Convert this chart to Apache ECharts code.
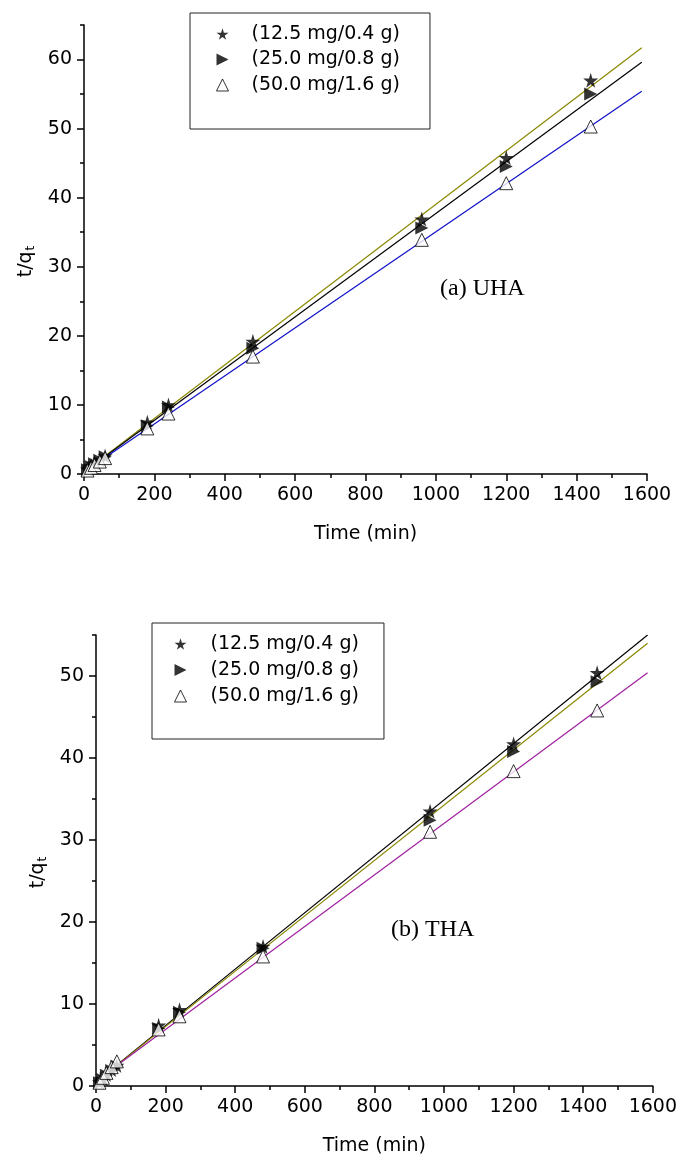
<!DOCTYPE html>
<html>
<head>
<meta charset="utf-8">
<script src="https://cdn.jsdelivr.net/npm/echarts@6/dist/echarts.min.js"></script>
<style>html,body{margin:0;padding:0;background:#fff}#c{width:680px;height:1160px}</style>
</head>
<body>
<div id="c"></div>
<script>
// ---- data ----
const seriesNames = ['(12.5 mg/0.4 g)', '(25.0 mg/0.8 g)', '(50.0 mg/1.6 g)'];
const times = [10, 20, 30, 45, 60, 180, 240, 480, 960, 1200, 1440];
// (a) UHA  t/qt
const uha1 = [0.7, 1.2, 1.6, 2.1, 2.6, 7.5, 10.0, 19.2, 36.9, 45.8, 57.0];
const uha2 = [0.6, 1.1, 1.5, 2.0, 2.5, 7.0, 9.7, 18.2, 35.6, 44.5, 55.0];
const uha3 = [0.5, 0.9, 1.3, 1.8, 2.3, 6.6, 8.75, 17.0, 33.9, 42.1, 50.3];
// (b) THA  t/qt
const tha1 = [0.5, 0.9, 1.4, 2.0, 2.5, 7.4, 9.3, 17.0, 33.5, 41.7, 50.4];
const tha2 = [0.4, 0.8, 1.3, 1.9, 2.4, 7.0, 9.0, 16.8, 32.4, 40.8, 49.3];
const tha3 = [0.4, 1.0, 1.6, 2.3, 3.0, 6.9, 8.5, 15.8, 31.0, 38.4, 45.8];
// fitted lines (start / end)
const fitX = [0, 1585];
const uhaFit1 = [0.3, 61.7];
const uhaFit2 = [0.3, 59.6];
const uhaFit3 = [0.3, 55.4];
const thaFit1 = [0.5, 55.0];
const thaFit2 = [0.5, 54.0];
const thaFit3 = [0.6, 50.4];
// ticks
const xTicks = [0, 200, 400, 600, 800, 1000, 1200, 1400, 1600];
const yTicksTop = [0, 10, 20, 30, 40, 50, 60];
const yTicksBottom = [0, 10, 20, 30, 40, 50];
const panelLabels = ['(a) UHA', '(b) THA'];

// ---- styles ----
const FONT = 'DejaVu Sans';
const STAR = 'path://M50,0 L61,35 L98,35 L68,57 L79,91 L50,70 L21,91 L32,57 L2,35 L39,35 Z';
const RTRI = 'path://M0,0 L100,50 L0,100 Z';
const symbols = [
  {symbol: STAR, size: 15, itemStyle: {color: '#000'}},
  {symbol: RTRI, size: 13, itemStyle: {color: '#000'}},
  {symbol: 'triangle', size: 13, itemStyle: {color: '#fff', borderColor: '#000', borderWidth: 1}}
];
const fitColorsTop = ['#8a8700', '#000000', '#1010c8'];
const fitColorsBottom = ['#000000', '#8a8700', '#a020a0'];

function pairs(xs, ys) { return xs.map((x, i) => [x, ys[i]]); }
const plain = v => String(v);

function xAxisDef(gi) {
  return {
    type: 'value', gridIndex: gi, min: 0, max: 1600, interval: 200,
    axisLine: {show: true, lineStyle: {color: '#000', width: 1.5}},
    axisTick: {show: true, length: 7, lineStyle: {color: '#000', width: 1.5}, customValues: xTicks},
    minorTick: {show: true, splitNumber: 2, length: 4, lineStyle: {color: '#000', width: 1.5}},
    splitLine: {show: false}, minorSplitLine: {show: false},
    axisLabel: {color: '#000', fontFamily: FONT, fontSize: 19, margin: 12, customValues: xTicks, formatter: plain},
    name: 'Time (min)', nameLocation: 'middle', nameGap: 51,
    nameTextStyle: {color: '#000', fontFamily: FONT, fontSize: 19}
  };
}
function yAxisMain(gi, max, ticks) {
  return {
    type: 'value', gridIndex: gi, min: 0, max: max, interval: 10,
    axisLine: {show: true, onZero: false, lineStyle: {color: '#000', width: 1.5}},
    axisTick: {show: true, length: 7, lineStyle: {color: '#000', width: 1.5}, customValues: ticks},
    minorTick: {show: false},
    splitLine: {show: false},
    axisLabel: {color: '#000', fontFamily: FONT, fontSize: 19, margin: 12, customValues: ticks, formatter: plain},
    name: 't/q{s|t}', nameLocation: 'middle', nameGap: 44,
    nameTextStyle: {color: '#000', fontFamily: FONT, fontSize: 19, padding: [0, 24, 0, 0],
      rich: {s: {fontFamily: FONT, fontSize: 12, padding: [9, 0, 0, 1], color: '#000'}}}
  };
}
function yAxisMinor(gi, max) {
  return {
    type: 'value', gridIndex: gi, min: 0, max: max, interval: 5, position: 'left',
    axisLine: {show: false}, axisLabel: {show: false}, splitLine: {show: false},
    axisTick: {show: true, length: 4, lineStyle: {color: '#000', width: 1.5}}
  };
}

const series = [];
const topData = [uha1, uha2, uha3];
const botData = [tha1, tha2, tha3];
const topFits = [uhaFit1, uhaFit2, uhaFit3];
const botFits = [thaFit1, thaFit2, thaFit3];
[0, 1, 2].forEach(i => {
  series.push({type: 'line', xAxisIndex: 0, yAxisIndex: 0, data: pairs(fitX, topFits[i]), showSymbol: false, silent: true,
    lineStyle: {color: fitColorsTop[i], width: 1.2}, z: 2});
  series.push({type: 'line', xAxisIndex: 1, yAxisIndex: 2, data: pairs(fitX, botFits[i]), showSymbol: false, silent: true,
    lineStyle: {color: fitColorsBottom[i], width: 1.2}, z: 2});
});
[0, 1, 2].forEach(i => {
  series.push({type: 'scatter', name: 'a#' + seriesNames[i], xAxisIndex: 0, yAxisIndex: 0,
    data: pairs(times, topData[i]), symbol: symbols[i].symbol, symbolSize: symbols[i].size,
    itemStyle: symbols[i].itemStyle, z: 5});
  series.push({type: 'scatter', name: 'b#' + seriesNames[i], xAxisIndex: 1, yAxisIndex: 2,
    data: pairs(times, botData[i]), symbol: symbols[i].symbol, symbolSize: symbols[i].size,
    itemStyle: symbols[i].itemStyle, z: 5});
});

function legendDef(prefix, left, top, padding, gap, textPad) {
  return {
    orient: 'vertical', left: left, top: top, padding: padding, itemGap: gap,
    itemWidth: 12, itemHeight: 12, selectedMode: false,
    borderColor: '#222', borderWidth: 1,
    formatter: n => n.split('#')[1],
    textStyle: {color: '#000', fontFamily: FONT, fontSize: 19, lineHeight: 20, padding: [0, 0, 0, textPad]},
    data: seriesNames.map((n, i) => ({name: prefix + '#' + n, icon: symbols[i].symbol,
      itemStyle: symbols[i].itemStyle}))
  };
}

const option = {
  animation: false,
  backgroundColor: '#fff',
  grid: [
    {left: 84, top: 25, width: 563, height: 449},
    {left: 96, top: 635, width: 560, height: 451}
  ],
  xAxis: [xAxisDef(0), xAxisDef(1)],
  yAxis: [yAxisMain(0, 65, yTicksTop), yAxisMinor(0, 65), yAxisMain(1, 55, yTicksBottom), yAxisMinor(1, 55)],
  legend: [
    legendDef('a', 190, 13, [11, 30, 34, 26], 5.5, 18),
    legendDef('b', 152, 623, [11, 25, 33, 22], 6, 19)
  ],
  graphic: [
    {type: 'text', left: 440, top: 277, style: {text: panelLabels[0], font: '24px "Liberation Serif"', fill: '#000'}},
    {type: 'text', left: 391, top: 918, style: {text: panelLabels[1], font: '24px "Liberation Serif"', fill: '#000'}}
  ],
  series: series
};
const chart = echarts.init(document.getElementById('c'), null, {renderer: 'canvas'});
chart.setOption(option);
</script>
</body>
</html>
